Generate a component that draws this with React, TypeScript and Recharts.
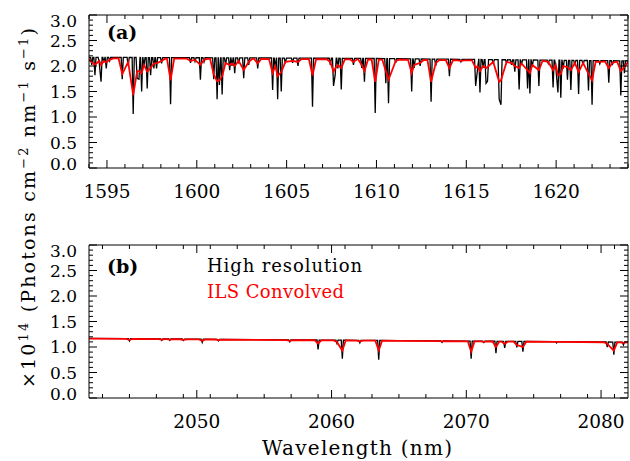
import React from 'react';
import { LineChart, Line, XAxis, YAxis } from 'recharts';

const FONT = "'DejaVu Serif', 'Liberation Serif', serif";

// ---- tick values ----
const yTicks = [0, 0.1, 0.2, 0.3, 0.4, 0.5, 0.6, 0.7, 0.8, 0.9, 1.0, 1.1, 1.2, 1.3, 1.4, 1.5, 1.6, 1.7, 1.8, 1.9, 2.0, 2.1, 2.2, 2.3, 2.4, 2.5, 2.6, 2.7, 2.8, 2.9, 3.0];
const yMajor = [0, 0.5, 1.0, 1.5, 2.0, 2.5, 3.0];

const xTicksA = [1594, 1595, 1596, 1597, 1598, 1599, 1600, 1601, 1602, 1603, 1604, 1605, 1606, 1607, 1608, 1609, 1610, 1611, 1612, 1613, 1614, 1615, 1616, 1617, 1618, 1619, 1620, 1621, 1622, 1623, 1624];
const xMajorA = [1595, 1600, 1605, 1610, 1615, 1620];

const xTicksB = [2043, 2045, 2047, 2049, 2050, 2051, 2053, 2055, 2057, 2059, 2060, 2061, 2063, 2065, 2067, 2069, 2070, 2071, 2073, 2075, 2077, 2079, 2080, 2081];
const xMajorB = [2050, 2060, 2070, 2080];

// ---- continuum levels: [wavelength, value] ----
const contA: [number, number][] = [[1594, 2.15], [1609, 2.13], [1624, 2.08]];
const contB: [number, number][] = [[2042, 1.165], [2065, 1.12], [2082, 1.09]];

// ---- absorption lines: [centre nm, high-res minimum, ILS-convolved minimum] ----
const linesA: [number, number, number][] = [
  [1594.15, 2.02, 2.08], [1594.33, 1.82, 2.02], [1594.57, 2.06, 2.1], [1594.67, 1.69, 2.02],
  [1594.83, 2.07, 2.1], [1594.96, 1.95, 2.07], [1595.15, 2.1, 2.12], [1595.85, 1.74, 1.84],
  [1596.18, 2.0, 2.08], [1596.46, 1.06, 1.43], [1596.68, 1.76, 1.9], [1596.78, 1.74, 1.9],
  [1596.93, 1.5, 1.86], [1597.06, 2.0, 2.02], [1597.24, 1.56, 1.89], [1597.43, 1.82, 1.96],
  [1597.61, 1.95, 2.05], [1597.76, 1.95, 2.05], [1598.04, 2.05, 2.1], [1598.54, 1.25, 1.72],
  [1599.65, 2.06, 2.1], [1599.9, 2.09, 2.12],
  [1600.2, 1.73, 2.02], [1600.4, 2.08, 2.12], [1600.94, 1.74, 1.84], [1601.13, 1.35, 1.7],
  [1601.26, 1.63, 1.72], [1601.41, 1.44, 1.8], [1601.6, 2.02, 2.06], [1601.83, 1.92, 2.02],
  [1601.96, 2.0, 2.05], [1602.11, 1.86, 2.0], [1602.33, 2.05, 2.1], [1602.61, 1.76, 1.92],
  [1602.89, 2.02, 2.08], [1603.39, 1.95, 2.05], [1604.22, 1.53, 1.86], [1604.37, 1.95, 2.0],
  [1604.5, 1.35, 1.8], [1604.7, 1.5, 1.88], [1604.93, 2.05, 2.08], [1605.33, 2.06, 2.1],
  [1605.63, 2.0, 2.08],
  [1606.44, 1.2, 1.82], [1607.43, 2.02, 2.08], [1607.61, 1.61, 1.89], [1607.7, 1.82, 1.95],
  [1607.85, 1.95, 2.02], [1608.04, 1.54, 1.96], [1608.72, 2.02, 2.08], [1609.18, 1.96, 2.02],
  [1609.33, 1.69, 1.9], [1609.93, 1.08, 1.69], [1610.52, 1.66, 1.9], [1610.67, 1.27, 1.73],
  [1611.07, 2.06, 2.1], [1611.96, 1.5, 1.86], [1612.1, 1.96, 2.02],
  [1612.43, 2.0, 2.06], [1613.04, 1.3, 1.69], [1613.3, 2.0, 2.06], [1614.06, 1.8, 1.96],
  [1614.7, 2.08, 2.1], [1615.52, 1.61, 1.96], [1615.63, 1.95, 2.0], [1615.76, 1.48, 1.9],
  [1615.94, 1.96, 2.0], [1616.1, 1.66, 1.96], [1616.18, 1.7, 1.98], [1616.5, 2.04, 2.08],
  [1616.83, 1.35, 1.69], [1616.93, 1.24, 1.72], [1617.24, 2.06, 2.08], [1617.52, 2.02, 2.06],
  [1617.7, 1.89, 2.0], [1617.94, 1.54, 1.96], [1618.07, 2.02, 2.05], [1618.41, 1.56, 1.92],
  [1618.54, 1.46, 1.86], [1618.67, 1.98, 2.02], [1619.04, 1.61, 1.92], [1619.56, 2.05, 2.08],
  [1619.83, 1.58, 1.92], [1619.98, 1.98, 2.02], [1620.1, 1.48, 1.82], [1620.26, 1.38, 1.84],
  [1620.39, 1.95, 2.0], [1620.63, 1.73, 1.98], [1620.82, 1.53, 1.92], [1621.04, 2.02, 2.06],
  [1621.25, 1.45, 1.88], [1621.5, 2.02, 2.06], [1621.8, 1.52, 1.85], [1622.0, 1.24, 1.72],
  [1622.43, 2.04, 2.08], [1622.93, 1.67, 1.96], [1623.13, 2.02, 2.06], [1623.6, 1.42, 1.9],
  [1623.8, 1.86, 1.98],
];

const linesB: [number, number, number][] = [
  [2045.0, 1.12, 1.14], [2047.4, 1.13, 1.145], [2048.0, 1.13, 1.145], [2049.0, 1.13, 1.14],
  [2050.4, 1.09, 1.12], [2051.6, 1.12, 1.135], [2056.9, 1.1, 1.12], [2059.0, 0.95, 1.07],
  [2060.4, 1.07, 1.1], [2060.8, 0.77, 0.93], [2062.1, 1.08, 1.11], [2063.5, 0.75, 0.93],
  [2068.2, 1.09, 1.11], [2070.36, 0.77, 0.91], [2071.3, 1.09, 1.1], [2072.2, 0.88, 1.0],
  [2072.85, 0.98, 1.06], [2073.75, 0.99, 1.04], [2074.2, 0.91, 1.0], [2076.7, 1.08, 1.1],
  [2080.46, 1.0, 1.06], [2080.95, 0.85, 0.93], [2081.66, 1.04, 1.08],
];

// ---- series construction from the read values ----
function contAt(knots: [number, number][], x: number) {
  for (let i = 0; i < knots.length - 1; i++) {
    const [x0, y0] = knots[i];
    const [x1, y1] = knots[i + 1];
    if (x <= x1 || i === knots.length - 2) {
      return y0 + ((y1 - y0) * (x - x0)) / (x1 - x0);
    }
  }
  return knots[0][1];
}

function buildSeries(lines: [number, number, number][], knots: [number, number][], which: 1 | 2, hw: number, lift: number) {
  const pts: { x: number; y: number }[] = [];
  const centers = lines.map((l) => l[0]);
  const near = (x: number, self: number) => centers.some((c, i) => i !== self && Math.abs(x - c) < hw);
  knots.forEach(([x, y]) => {
    if (!near(x, -1)) pts.push({ x, y: y + lift });
  });
  lines.forEach((l, i) => {
    const c = l[0];
    [c - hw, c + hw].forEach((sx) => {
      if (!near(sx, i)) pts.push({ x: sx, y: contAt(knots, sx) + lift });
    });
    pts.push({ x: c, y: l[which] });
  });
  pts.sort((a, b) => a.x - b.x);
  return pts;
}

const blackA = buildSeries(linesA, contA, 1, 0.06, 0.02);
const redA = buildSeries(linesA, contA, 2, 0.2, 0);
const blackB = buildSeries(linesB, contB, 1, 0.08, 0.005);
const redB = buildSeries(linesB, contB, 2, 0.25, 0);

const isIn = (arr: number[], v: number) => arr.some((a) => Math.abs(a - v) < 1e-6);

function makeXTick(majors: number[], side: 'bottom' | 'top') {
  return (props: any) => {
    const { x, y, payload } = props;
    const v = payload.value;
    const major = isIn(majors, v);
    const len = major ? 8 : 4;
    const dir = side === 'bottom' ? -1 : 1;
    return (
      <g>
        <line x1={x} y1={y} x2={x} y2={y + dir * len} stroke="#000" strokeWidth={1} />
        {side === 'bottom' && major ? (
          <text x={x} y={y + 17} dy="0.71em" textAnchor="middle" style={{ fontFamily: FONT }} fontSize={18.5} fill="#000">
            {String(v)}
          </text>
        ) : null}
      </g>
    );
  };
}

function makeYTick(side: 'left' | 'right') {
  return (props: any) => {
    const { x, y, payload } = props;
    const v = payload.value;
    const major = isIn(yMajor, v);
    const len = major ? 8 : 4;
    const dir = side === 'left' ? 1 : -1;
    let shift = 0;
    if (Math.abs(v - 3) < 1e-6) shift = 6;
    if (Math.abs(v) < 1e-6) shift = -4;
    return (
      <g>
        <line x1={x} y1={y} x2={x + dir * len} y2={y} stroke="#000" strokeWidth={1} />
        {side === 'left' && major ? (
          <text x={x - 12} y={y + shift} dy="0.36em" textAnchor="end" style={{ fontFamily: FONT }} fontSize={17} fill="#000">
            {v.toFixed(1)}
          </text>
        ) : null}
      </g>
    );
  };
}

const axisLine = { stroke: '#000', strokeWidth: 1 };

function Panel(props: {
  top: number;
  height: number;
  domain: [number, number];
  ticks: number[];
  majors: number[];
  black: { x: number; y: number }[];
  red: { x: number; y: number }[];
}) {
  const { top, height, domain, ticks, majors, black, red } = props;
  return (
    <div style={{ position: 'absolute', left: 0, top, width: 630, height }}>
      <LineChart width={630} height={height} margin={{ top: 0, right: 0, bottom: 0, left: 0 }}>
        <XAxis
          xAxisId="b"
          orientation="bottom"
          type="number"
          dataKey="x"
          domain={domain}
          allowDataOverflow
          ticks={ticks}
          interval={0}
          tick={makeXTick(majors, 'bottom')}
          tickLine={false}
          tickSize={0}
          tickMargin={0}
          height={height - 168}
          axisLine={axisLine}
        />
        <XAxis
          xAxisId="t"
          orientation="top"
          type="number"
          dataKey="x"
          domain={domain}
          allowDataOverflow
          ticks={ticks}
          interval={0}
          tick={makeXTick(majors, 'top')}
          tickLine={false}
          tickSize={0}
          tickMargin={0}
          height={15}
          axisLine={axisLine}
        />
        <YAxis
          yAxisId="l"
          orientation="left"
          type="number"
          domain={[0, 3]}
          allowDataOverflow
          ticks={yTicks}
          interval={0}
          tick={makeYTick('left')}
          tickLine={false}
          tickSize={0}
          tickMargin={0}
          width={89}
          axisLine={axisLine}
        />
        <YAxis
          yAxisId="r"
          orientation="right"
          type="number"
          domain={[0, 3]}
          allowDataOverflow
          ticks={yTicks}
          interval={0}
          tick={makeYTick('right')}
          tickLine={false}
          tickSize={0}
          tickMargin={0}
          width={2}
          axisLine={axisLine}
        />
        <Line
          xAxisId="b"
          yAxisId="l"
          data={black}
          dataKey="y"
          type="linear"
          stroke="#000"
          strokeWidth={1.3}
          dot={false}
          activeDot={false}
          isAnimationActive={false}
        />
        <Line
          xAxisId="b"
          yAxisId="l"
          data={red}
          dataKey="y"
          type="linear"
          stroke="#ff0000"
          strokeWidth={1.8}
          dot={false}
          activeDot={false}
          isAnimationActive={false}
        />
      </LineChart>
    </div>
  );
}

export default function App() {
  const f = { fontFamily: FONT };
  return (
    <div style={{ position: 'absolute', left: 0, top: 0, width: 630, height: 461, background: '#fff', overflow: 'hidden' }}>
      <Panel top={0} height={230} domain={[1594, 1624]} ticks={xTicksA} majors={xMajorA} black={blackA} red={redA} />
      <Panel top={230} height={231} domain={[2042, 2082]} ticks={xTicksB} majors={xMajorB} black={blackB} red={redB} />
      <svg width={630} height={461} style={{ position: 'absolute', left: 0, top: 0, pointerEvents: 'none' }}>
        <text x={107} y={39} style={f} fontWeight="bold" fontSize={19} fill="#000">(a)</text>
        <text x={107} y={273} style={f} fontWeight="bold" fontSize={19} fill="#000">(b)</text>
        <text x={207} y={272} style={f} fontSize={18} fill="#000" textLength={155} lengthAdjust="spacing">High resolution</text>
        <text x={207} y={298} style={f} fontSize={18} fill="#ff0000" textLength={137} lengthAdjust="spacing">ILS Convolved</text>
        <text x={357} y={455} textAnchor="middle" style={f} fontSize={20} fill="#000" textLength={190} lengthAdjust="spacing">Wavelength (nm)</text>
        <text
          transform="translate(35,208) rotate(-90)"
          textAnchor="middle"
          style={f}
          fontSize={19}
          fill="#000"
          textLength={360}
          lengthAdjust="spacing"
        >
          ×10
          <tspan dy={-7} fontSize={13}>14</tspan>
          <tspan dy={7}> (Photons cm</tspan>
          <tspan dy={-7} fontSize={13}>−2</tspan>
          <tspan dy={7}> nm</tspan>
          <tspan dy={-7} fontSize={13}>−1</tspan>
          <tspan dy={7}> s</tspan>
          <tspan dy={-7} fontSize={13}>−1</tspan>
          <tspan dy={7}>)</tspan>
        </text>
      </svg>
    </div>
  );
}
